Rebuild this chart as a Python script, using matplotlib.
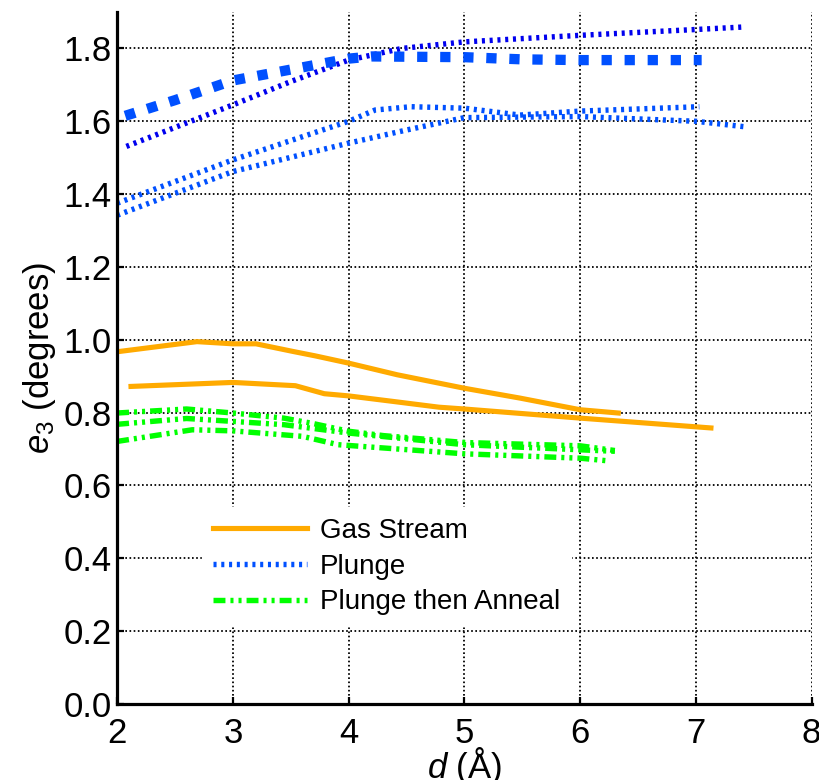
import matplotlib
matplotlib.use("Agg")
import matplotlib.pyplot as plt

plt.rcParams.update({
    "font.family": ["Liberation Sans", "DejaVu Sans"],
    "mathtext.fontset": "custom",
    "mathtext.it": "Liberation Sans:italic",
    "mathtext.rm": "Liberation Sans",
    "lines.scale_dashes": False,
})

# Gas Stream (orange, solid)
gas_x1 = [2.02, 2.69, 3.0, 3.2, 3.52, 3.71, 4.0, 4.42, 5.0, 5.48, 6.0, 6.33]
gas_y1 = [0.968, 0.995, 0.989, 0.989, 0.968, 0.956, 0.936, 0.904, 0.867, 0.840, 0.808, 0.799]
gas_x2 = [2.12, 3.0, 3.54, 3.79, 4.0, 4.38, 4.78, 5.0, 6.0, 7.13]
gas_y2 = [0.872, 0.883, 0.874, 0.852, 0.846, 0.831, 0.815, 0.810, 0.785, 0.758]

# Plunge (blue, dotted)
plunge_x1 = [2.08, 3.0, 3.5, 4.0, 4.46, 5.0, 6.0, 7.0, 7.42]
plunge_y1 = [1.531, 1.645, 1.709, 1.768, 1.800, 1.818, 1.836, 1.852, 1.859]
plunge_x2 = [2.0, 3.0, 4.0, 4.23, 4.54, 5.0, 5.48, 6.0, 7.03]
plunge_y2 = [1.375, 1.494, 1.600, 1.631, 1.640, 1.636, 1.617, 1.628, 1.640]
plunge_x3 = [2.0, 3.0, 4.0, 4.5, 5.0, 6.0, 7.0, 7.42]
plunge_y3 = [1.342, 1.462, 1.540, 1.576, 1.610, 1.613, 1.600, 1.585]
plunge_x4 = [2.07, 2.5, 3.0, 3.5, 4.0, 4.2, 5.0, 5.5, 6.0, 7.05]
plunge_y4 = [1.615, 1.658, 1.712, 1.742, 1.772, 1.778, 1.776, 1.770, 1.768, 1.768]

# Plunge then Anneal (green, dash-dot)
anneal_x1 = [2.0, 2.6, 3.0, 3.44, 3.68, 4.0, 4.3, 5.0, 6.0, 6.3]
anneal_y1 = [0.799, 0.810, 0.799, 0.785, 0.771, 0.749, 0.737, 0.718, 0.709, 0.696]
anneal_x2 = [2.0, 2.6, 3.0, 3.44, 4.0, 5.0, 6.0, 6.3]
anneal_y2 = [0.768, 0.784, 0.776, 0.767, 0.744, 0.712, 0.698, 0.694]
anneal_x3 = [2.0, 2.65, 3.0, 3.6, 3.91, 5.0, 6.0, 6.23]
anneal_y3 = [0.721, 0.753, 0.750, 0.735, 0.712, 0.687, 0.675, 0.668]

ORANGE = "#ffaa00"
BLUE = "#0050ff"
DARK_BLUE = "#0000ee"
GREEN = "#00ff00"

dot = (0, (2.2, 3.4))
big_dash = (0, (7.4, 9.2))
dash_dot = (0, (8.6, 3.6, 2.2, 3.6, 2.2, 3.6))

fig = plt.figure(figsize=(8.19, 7.80), dpi=100)
ax = fig.add_axes([0.143, 0.0974, 0.848, 0.8872])

ax.plot(gas_x1, gas_y1, color=ORANGE, lw=3.7, label="Gas Stream")
ax.plot(gas_x2, gas_y2, color=ORANGE, lw=3.7)

ax.plot(plunge_x2, plunge_y2, color=BLUE, lw=3.9, linestyle=dot, label="Plunge")
ax.plot(plunge_x3, plunge_y3, color=BLUE, lw=3.9, linestyle=dot)
ax.plot(plunge_x1, plunge_y1, color=DARK_BLUE, lw=3.9, linestyle=dot)
ax.plot(plunge_x4, plunge_y4, color=BLUE, lw=7.4, linestyle=big_dash)

ax.plot(anneal_x1, anneal_y1, color=GREEN, lw=3.9, linestyle=dash_dot,
        label="Plunge then Anneal")
ax.plot(anneal_x2, anneal_y2, color=GREEN, lw=3.9, linestyle=dash_dot)
ax.plot(anneal_x3, anneal_y3, color=GREEN, lw=3.9, linestyle=dash_dot)

ax.set_xlim(2, 8)
ax.set_ylim(0, 1.9)
ax.set_xticks(range(2, 9))
ax.set_yticks([i * 0.2 for i in range(10)])
ax.set_yticklabels([f"{i * 0.2:.1f}" for i in range(10)])

ax.grid(True, color="black", linestyle=(0, (1.2, 1.8)), linewidth=1.3)
ax.set_axisbelow(True)

for side in ("top", "right"):
    ax.spines[side].set_visible(False)
for side in ("left", "bottom"):
    ax.spines[side].set_linewidth(2.3)

ax.tick_params(direction="in", length=5, width=1.6, labelsize=25)
ax.tick_params(axis="x", pad=9)
ax.tick_params(axis="y", pad=4)

ax.set_xlabel(r"$d$ (Å)", fontsize=25, labelpad=-3)
ax.set_ylabel(r"$e_3$ (degrees)", fontsize=25, labelpad=4)

leg = ax.legend(loc="upper left", bbox_to_anchor=(0.122, 0.285), fontsize=20,
                frameon=True, fancybox=False, framealpha=1, edgecolor="white",
                handlelength=3.4, handletextpad=0.45, labelspacing=0.35,
                borderpad=0.4, borderaxespad=0)

fig.savefig("out.png", dpi=100)
